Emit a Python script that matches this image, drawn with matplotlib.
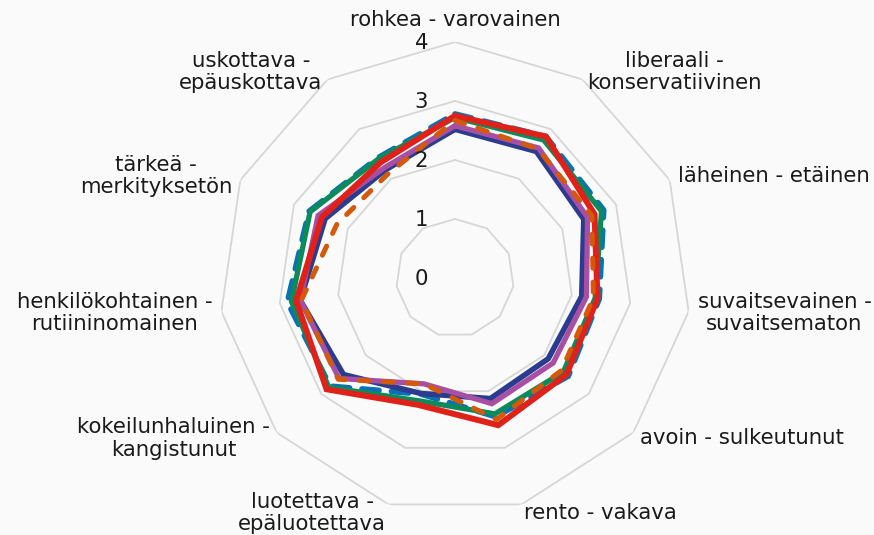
import numpy as np
import matplotlib
matplotlib.use("Agg")
import matplotlib.pyplot as plt
from matplotlib import transforms

categories = [
    "rohkea - varovainen",
    "liberaali -\nkonservatiivinen",
    "läheinen - etäinen",
    "suvaitsevainen -\nsuvaitsematon",
    "avoin - sulkeutunut",
    "rento - vakava",
    "luotettava -\nepäluotettava",
    "kokeilunhaluinen -\nkangistunut",
    "henkilökohtainen -\nrutiininomainen",
    "tärkeä -\nmerkityksetön",
    "uskottava -\nepäuskottava",
]

navy_vals   = [2.52, 2.55, 2.40, 2.17, 2.09, 2.13, 2.04, 2.50, 2.65, 2.42, 2.18]
teal_vals   = [2.78, 2.85, 2.77, 2.47, 2.54, 2.45, 2.05, 2.80, 2.87, 2.72, 2.42]
green_vals  = [2.72, 2.78, 2.73, 2.40, 2.43, 2.40, 2.17, 2.83, 2.80, 2.70, 2.40]
purple_vals = [2.58, 2.62, 2.47, 2.25, 2.20, 2.22, 1.87, 2.60, 2.65, 2.55, 2.22]
red_vals    = [2.75, 2.85, 2.60, 2.44, 2.50, 2.60, 2.24, 2.88, 2.72, 2.48, 2.33]
orange_vals = [2.67, 2.60, 2.55, 2.37, 2.39, 2.50, 1.87, 2.62, 2.63, 2.20, 2.10]

ring_values = [1, 2, 3, 4]
tick_values = [0, 1, 2, 3, 4]

BG = "#fafafa"
W, H = 874, 535
fig = plt.figure(figsize=(W / 100, H / 100), dpi=100, facecolor=BG)

cx, cy, R = 455, 278, 236
ax = fig.add_axes([(cx - R) / W, (H - cy - R) / H, 2 * R / W, 2 * R / H],
                  projection="polar", facecolor="none")
ax.set_theta_zero_location("N")
ax.set_theta_direction(-1)
ax.set_ylim(0, 4)
ax.grid(False)
ax.spines["polar"].set_visible(False)
ax.set_xticks([])
ax.set_yticks([])

n = len(categories)
angles = np.arange(n) * 2 * np.pi / n
closed = np.append(angles, angles[0])

# hendecagon gridlines
for rv in ring_values:
    ax.plot(closed, [rv] * (n + 1), color="#d6d6d6", lw=1.3, zorder=1,
            solid_joinstyle="miter")

def close(v):
    return list(v) + [v[0]]

series = [
    (teal_vals,   "#0a72b4", (3.0, 2.2), 4.1, 2),
    (navy_vals,   "#2b3c8e", None,       4.0, 3),
    (green_vals,  "#0b8a5b", None,       3.8, 4),
    (purple_vals, "#a84fa4", None,       3.8, 5),
    (red_vals,    "#e0211a", None,       4.3, 6),
    (orange_vals, "#d4590b", (2.0, 2.8), 3.6, 7),
]
for vals, col, dash, lw, z in series:
    line, = ax.plot(closed, close(vals), color=col, lw=lw, zorder=z,
                    solid_joinstyle="miter", solid_capstyle="round")
    if dash is not None:
        line.set_dashes(dash)
        line.set_dash_capstyle("round")

FS = 15.3
# category labels
for k, (a, lab) in enumerate(zip(angles, categories)):
    s, c = np.sin(a), np.cos(a)
    if abs(s) < 0.05:
        ha = "center"
    elif s > 0:
        ha = "left"
    else:
        ha = "right"
    if k == 0:
        tr = transforms.offset_copy(ax.transData, fig, x=0, y=16, units="dots")
        va = "baseline"
    else:
        tr = transforms.offset_copy(ax.transData, fig, x=9 * s, y=9 * c, units="dots")
        va = "center"
    ax.text(a, 4, lab, transform=tr, ha=ha, va=va, fontsize=FS,
            multialignment="center", color="#1a1a1a", linespacing=1.15)

# radial tick labels
tr_t = transforms.offset_copy(ax.transData, fig, x=-27, y=-1, units="dots")
for tv in tick_values:
    ax.text(0, tv, str(tv), transform=tr_t, ha="right", va="center",
            fontsize=FS, color="#1a1a1a", zorder=10)

fig.savefig("out.png", dpi=100, facecolor=BG)
